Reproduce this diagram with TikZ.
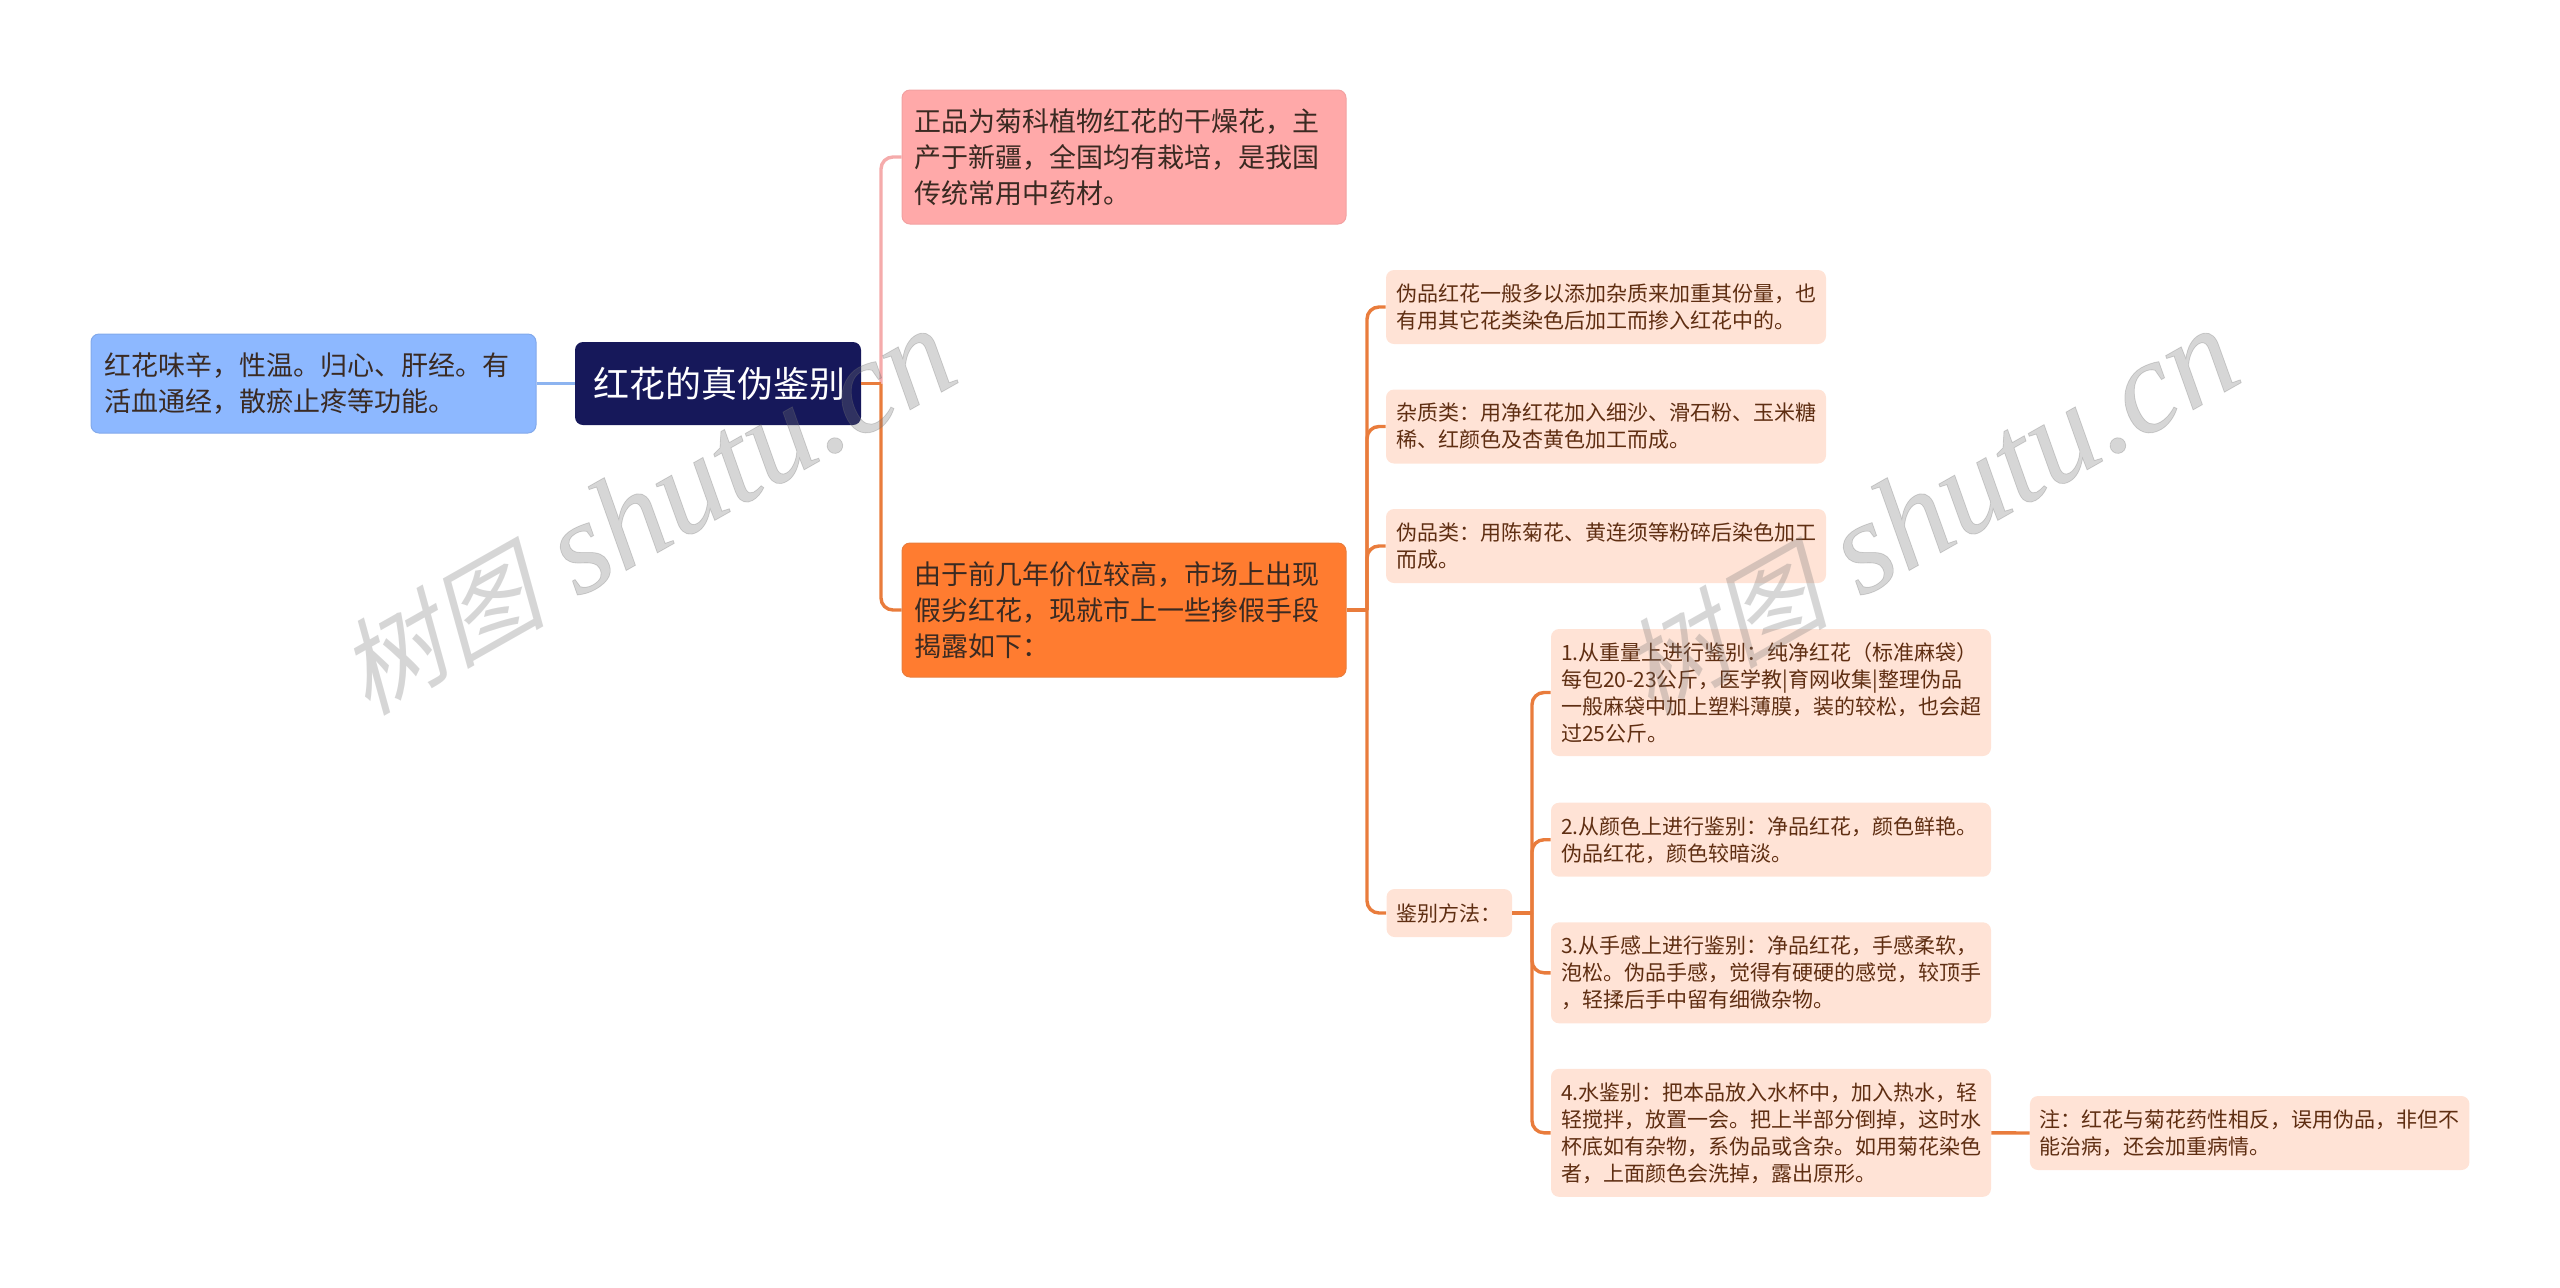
\documentclass[tikz,border=0pt]{standalone}
\usepackage{fontspec}
\setmainfont{Noto Sans CJK SC}
\newfontfamily\wmcjk[FakeSlant=0.25]{Noto Sans CJK SC}
\newfontfamily\wmlat[FakeBold=0.6]{Liberation Serif Italic}
\definecolor{rootfill}{HTML}{16185A}
\definecolor{bluefill}{HTML}{8DB8FF}
\definecolor{pinkfill}{HTML}{FFA9A9}
\definecolor{orgfill}{HTML}{FF7C30}
\definecolor{lightfill}{HTML}{FFE3D6}
\definecolor{orgline}{HTML}{E97C3C}
\definecolor{pinkline}{HTML}{F5ABAB}
\definecolor{blueline}{HTML}{8DB4F0}
\definecolor{txtdark}{HTML}{3A2A22}
\definecolor{txtsmall}{HTML}{5F2E12}
\tikzset{
  x=0.5pt,y=-0.5pt,
  boxbase/.style={rounded corners=4pt,inner ysep=0pt,align=left,anchor=center},
  dims/.style n args={3}{text width={(#1-2*#3)*0.5pt},inner xsep={#3*0.5pt},minimum height={#2*0.5pt}},
  rootnode/.style={boxbase,fill=rootfill,text=white,font=\fontsize{18pt}{24pt}\selectfont},
  bignode/.style={boxbase,text=txtdark,font=\fontsize{13.5pt}{18pt}\selectfont},
  smallnode/.style={boxbase,fill=lightfill,text=txtsmall,font=\fontsize{10.5pt}{13.5pt}\selectfont},
  link/.style={line width=1.7pt,draw=orgline},
  curved/.style={rounded corners=6pt},
  wm/.style={rotate=29.5,text=black!55,opacity=0.29,inner sep=0pt}
}
\begin{document}
\begin{tikzpicture}
\useasboundingbox (0,0) rectangle (2560,1287);
\coordinate (v0) at (881,0);
\coordinate (v1) at (1367,0);
\coordinate (v2) at (1532,0);
% nodes
\node[rootnode,dims={286}{83}{18}] (root) at (718,383.5) {红花的真伪鉴别};
\node[bignode,fill=bluefill,draw=bluefill!92!black,line width=.5pt,dims={445}{99}{13}] (blue) at (313.5,383.5) {红花味辛，性温。归心、肝经。有\\活血通经，散瘀止疼等功能。};
\node[bignode,fill=pinkfill,draw=pinkfill!95!black,line width=.5pt,dims={444}{134}{12}] (pink) at (1124,157) {正品为菊科植物红花的干燥花，主\\产于新疆，全国均有栽培，是我国\\传统常用中药材。};
\node[bignode,fill=orgfill,draw=orgline,line width=.5pt,dims={444}{134}{12}] (org) at (1124,610) {由于前几年价位较高，市场上出现\\假劣红花，现就市上一些掺假手段\\揭露如下：};
\node[smallnode,dims={440}{74}{10}] (s1) at (1606,307) {伪品红花一般多以添加杂质来加重其份量，也\\有用其它花类染色后加工而掺入红花中的。};
\node[smallnode,dims={440}{74}{10}] (s2) at (1606,426.5) {杂质类：用净红花加入细沙、滑石粉、玉米糖\\稀、红颜色及杏黄色加工而成。};
\node[smallnode,dims={440}{74}{10}] (s3) at (1606,546) {伪品类：用陈菊花、黄连须等粉碎后染色加工\\而成。};
\node[smallnode,dims={125.5}{48}{10}] (jb) at (1449.3,913) {鉴别方法：};
\node[smallnode,dims={440}{127}{10}] (a1) at (1771,692.5) {1.从重量上进行鉴别：纯净红花（标准麻袋）\\每包20-23公斤，医学教|育网收集|整理伪品\\一般麻袋中加上塑料薄膜，装的较松，也会超\\过25公斤。};
\node[smallnode,dims={440}{74}{10}] (a2) at (1771,839.7) {2.从颜色上进行鉴别：净品红花，颜色鲜艳。\\伪品红花，颜色较暗淡。};
\node[smallnode,dims={440}{101}{10}] (a3) at (1771,972.8) {3.从手感上进行鉴别：净品红花，手感柔软，\\泡松。伪品手感，觉得有硬硬的感觉，较顶手\\，轻揉后手中留有细微杂物。};
\node[smallnode,dims={440}{128}{10}] (a4) at (1771,1132.8) {4.水鉴别：把本品放入水杯中，加入热水，轻\\轻搅拌，放置一会。把上半部分倒掉，这时水\\杯底如有杂物，系伪品或含杂。如用菊花染色\\者，上面颜色会洗掉，露出原形。};
\node[smallnode,dims={439.5}{74}{10}] (note) at (2249.7,1133) {注：红花与菊花药性相反，误用伪品，非但不\\能治病，还会加重病情。};
% links
\draw[link,draw=blueline] (blue.east) -- (root.west);
\draw[link,draw=pinkline,curved] (root.east -| v0) |- (pink.west);
\draw[link] (root.east) -- (root.east -| v0);
\draw[link,curved] (root.east -| v0) |- (org.west);
\draw[link] (org.east) -- (org.east -| v1);
\foreach \t in {s1,s2,s3}{\draw[link,curved] (org.east -| v1) |- (\t.west);}
\draw[link,curved] (org.east -| v1) |- (jb.west);
\draw[link] (jb.east) -- (jb.east -| v2);
\foreach \t in {a1,a2,a3,a4}{\draw[link,curved] (jb.east -| v2) |- (\t.west);}
\draw[link] (a4.east) -- (note.west);
% watermarks
\node[wm] (w1) at (645,512) {\fontsize{52pt}{52pt}\selectfont\wmcjk 树图\fontsize{66pt}{66pt}\selectfont\wmlat\ shutu.cn};
\node[wm] (w2) at (1928,512) {\fontsize{52pt}{52pt}\selectfont\wmcjk 树图\fontsize{66pt}{66pt}\selectfont\wmlat\ shutu.cn};
\end{tikzpicture}
\end{document}
